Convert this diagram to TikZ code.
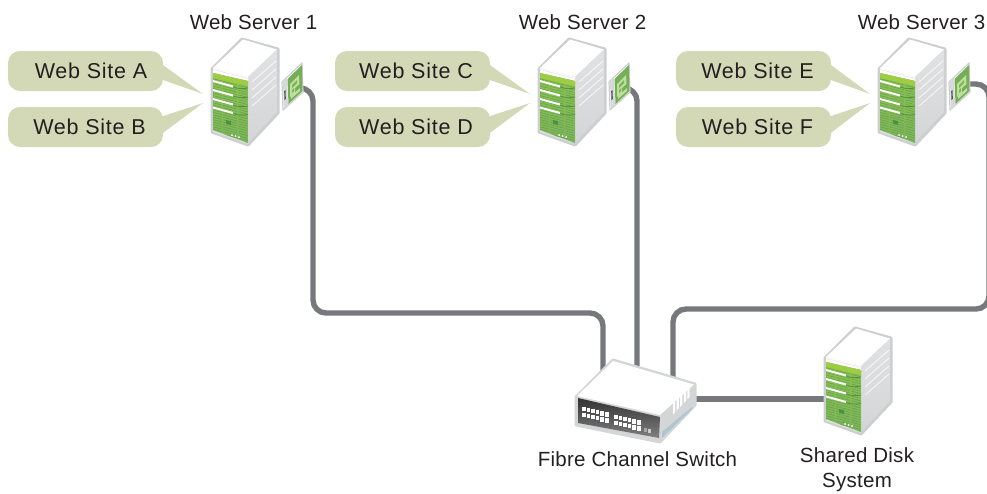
\documentclass[tikz,border=0pt]{standalone}
\usepackage{fontspec}
\setmainfont{Liberation Sans}
\newfontfamily\srvfont[LetterSpace=1.3]{Liberation Sans}
\newfontfamily\sitefont[LetterSpace=3.5]{Liberation Sans}
\definecolor{ink}{HTML}{231F20}
\definecolor{cablegray}{HTML}{77787B}
\definecolor{bubble}{HTML}{D3D9B7}
\definecolor{halo}{HTML}{CDCED0}
\definecolor{sideface}{HTML}{D4D5D7}
\definecolor{greenhi}{HTML}{8DC34F}
\definecolor{greenmid}{HTML}{7DB55C}
\definecolor{greendark}{HTML}{4F9140}
\tikzset{
  x=1pt,y=-1pt,
  cable/.style={draw=cablegray,line width=5.4pt,rounded corners=13pt},
  sitebox/.style={fill=bubble,rounded corners=12pt,minimum width=155pt,minimum height=40pt,inner sep=0pt,text=ink,font=\sitefont\fontsize{21.5}{24}\selectfont},
  tail/.style={fill=bubble},
  lbl/.style={text=ink,inner sep=0pt,align=center,font=\srvfont\fontsize{20.5}{25}\selectfont},
  serverbody/.pic={
    \fill[halo,draw=halo,line width=3pt,line join=round] (212,69)--(242,39)--(278,49)--(278,113)--(248,145)--(212,132)--cycle;
    \fill[white] (213,68)--(243,39.5)--(277,49.5)--(248,77)--cycle;
    \shade[top color=sideface!70!white,bottom color=sideface] (248,77)--(277,49.5)--(277,112)--(248,143)--cycle;
    \fill[white] (213,68)--(248,77)--(248,81)--(213,73)--cycle;
    \draw[sideface!60!white,line width=.6pt] (213,69.5)--(248,78.5);
    \fill[halo!70!white] (213,126)--(248,136)--(248,144)--(213,132)--cycle;
    \begin{scope}
      \clip (213,73)--(248,81)--(248,143)--(213,130)--cycle;
      \shade[top color=greenhi,bottom color=greenmid] (213,70) rectangle (248,145);
      \foreach \k in {0,2.4,...,72} {
        \draw[greendark!55!greenmid,line width=.55pt,dash pattern=on 9pt off 1.5pt on 14pt off 2pt] (213,74+\k)--(248,83+\k);
      }
    \end{scope}
    \fill[greenhi!85!yellow] (213,73)--(248,81)--(248,86)--(213,78)--cycle;
    \foreach \k in {0,9,18,26.5} {
      \fill[white] (213,80+\k)--(233,85.5+\k)--(233,87.5+\k)--(213,82+\k)--cycle;
      \draw[greendark,line width=.7pt] (233,87+\k) .. controls (238,89+\k) and (243,89+\k) .. (248,88+\k);
    }
    \fill[greendark] (226,120)--(231,121)--(231,125)--(226,124)--cycle;
    \foreach \p/\q in {232/135,235.5/136,239/137} \fill[white] (\p,\q) circle (1pt);
    \foreach \k in {0,8,16,24} {
      \draw[white!85!sideface,line width=.8pt] (252,82+\k)--(276,61+\k);
    }
  },
  nicbody/.pic={
    \fill[white,draw=halo,line width=1.2pt,line join=round] (282,82)--(302,63)--(303,92)--(283,110)--cycle;
    \fill[halo!80!white] (283,82)--(287,78.5)--(288,105)--(284,109)--cycle;
    \fill[greenmid!80!greendark] (287.5,79)--(302,65)--(302.5,91)--(288.5,104)--cycle;
    \fill[greenhi!55!white] (290,84)--(299,75)--(299.5,84)--(295,88)--(295,93)--(290,97)--cycle;
    \fill[greenmid] (292,85)--(297,80)--(297,83)--(292,88)--cycle;
    \fill[greenmid] (292,90)--(294,88)--(294,91)--(292,93)--cycle;
    \fill[greenhi!55!white] (291,99)--(300,91)--(300,88)--(291,96)--cycle;
    \fill[ink!75!white] (284.2,91)--(285.6,90)--(285.8,99)--(284.4,100)--cycle;
  },
  switchbody/.pic={
    \fill[sideface,draw=sideface,line width=3pt,line join=round] (613,360)--(695,384)--(695,405)--(660,442)--(576,425)--(576,397)--cycle;
    \fill[white] (613,361)--(694,384.5)--(660,415)--(577,396)--cycle;
    \fill[sideface] (660,416)--(694,385)--(694,405)--(660,440)--cycle;
    \shade[top color=black!80,bottom color=black!50] (578,398)--(660,417)--(659,438)--(578,423)--cycle;
    \foreach \c in {0,...,5} {
      \pgfmathsetmacro{\xa}{582+4.6*\c}
      \pgfmathsetmacro{\xb}{614+4.6*\c}
      \pgfmathsetmacro{\ya}{406.5+1.15*\c}
      \pgfmathsetmacro{\yb}{414.5+1.15*\c}
      \foreach \r in {0,6} {
        \fill[white] (\xa,\ya+\r) rectangle +(3.6,4.4);
        \fill[white] (\xb,\yb+\r) rectangle +(3.6,4.4);
      }
    }
    \fill[black!35] (644,428) rectangle +(3,3.6);
    \fill[black!20] (648,429) rectangle +(3,3.6);
    \foreach \k in {0,1,2,3,4} {
      \fill[white] (673+3.6*\k,403-3.8*\k) -- +(2.2,-2.4) -- +(2.2,9) -- +(0,11.5) -- cycle;
    }
    \fill[black!30!cyan!25!sideface] (662,432)--(692,407)--(692,409)--(662,438)--cycle;
  }
}
\begin{document}
\begin{tikzpicture}
\useasboundingbox (0,0) rectangle (987,493);
\clip (0,0) rectangle (987,493);
\coordinate (nicA) at (300,88);
\coordinate (nicB) at (627,88);
\coordinate (nicC) at (967,84);
\coordinate (bendA) at (313,313);
\coordinate (bendC) at (989,309);
\coordinate (swA) at (603,372);
\coordinate (swB) at (637,372);
\coordinate (swC) at (673,378);
\coordinate (swD) at (692,399);
\coordinate (diskIn) at (826,399);
\draw[cable] (nicA) -| (bendA) -| (swA);
\draw[cable] (nicB) -| (swB);
\draw[cable] (nicC) -| (bendC) -| (swC);
\draw[cable,rounded corners=0pt] (swD) -- (diskIn);
\pic at (0,0) {serverbody};
\pic at (0,0) {nicbody};
\pic at (327,0) {serverbody};
\pic at (327,0) {nicbody};
\pic at (667,0) {serverbody};
\pic at (667,0) {nicbody};
\pic at (613,289) {serverbody};
\pic at (0,0) {switchbody};
\coordinate (tipA) at (203,94);
\coordinate (tipB) at (203,103);
\coordinate (tipC) at (530,94);
\coordinate (tipD) at (530,103);
\coordinate (tipE) at (870,94);
\coordinate (tipF) at (870,103);
\node[sitebox] (siteA) at (85.5,71) {\hspace*{11pt}Web Site A};
\node[sitebox] (siteB) at (85.5,127) {\hspace*{8pt}Web Site B};
\node[sitebox] (siteC) at (412.5,71) {\hspace*{7pt}Web Site C};
\node[sitebox] (siteD) at (412.5,127) {\hspace*{7pt}Web Site D};
\node[sitebox] (siteE) at (753.5,71) {\hspace*{8pt}Web Site E};
\node[sitebox] (siteF) at (753.5,127) {\hspace*{8pt}Web Site F};
\foreach \s/\t in {siteA/tipA,siteC/tipC,siteE/tipE} {
  \fill[tail] ([xshift=-3pt,yshift=8pt]\s.east) -- (\t) -- ([xshift=-3pt,yshift=-8pt]\s.east) -- cycle;
}
\foreach \s/\t in {siteB/tipB,siteD/tipD,siteF/tipF} {
  \fill[tail] ([xshift=-3pt,yshift=10pt]\s.east) -- (\t) -- ([xshift=-3pt,yshift=-8pt]\s.east) -- cycle;
}
\node[lbl] (srvA) at (253.5,22) {Web Server 1};
\node[lbl] (srvB) at (582.5,22) {Web Server 2};
\node[lbl] (srvC) at (921.5,22) {Web Server 3};
\node[lbl] (swlabel) at (637.5,459) {Fibre Channel Switch};
\node[lbl] (disklabel) at (857,470) {Shared Disk\\System};
\end{tikzpicture}
\end{document}
